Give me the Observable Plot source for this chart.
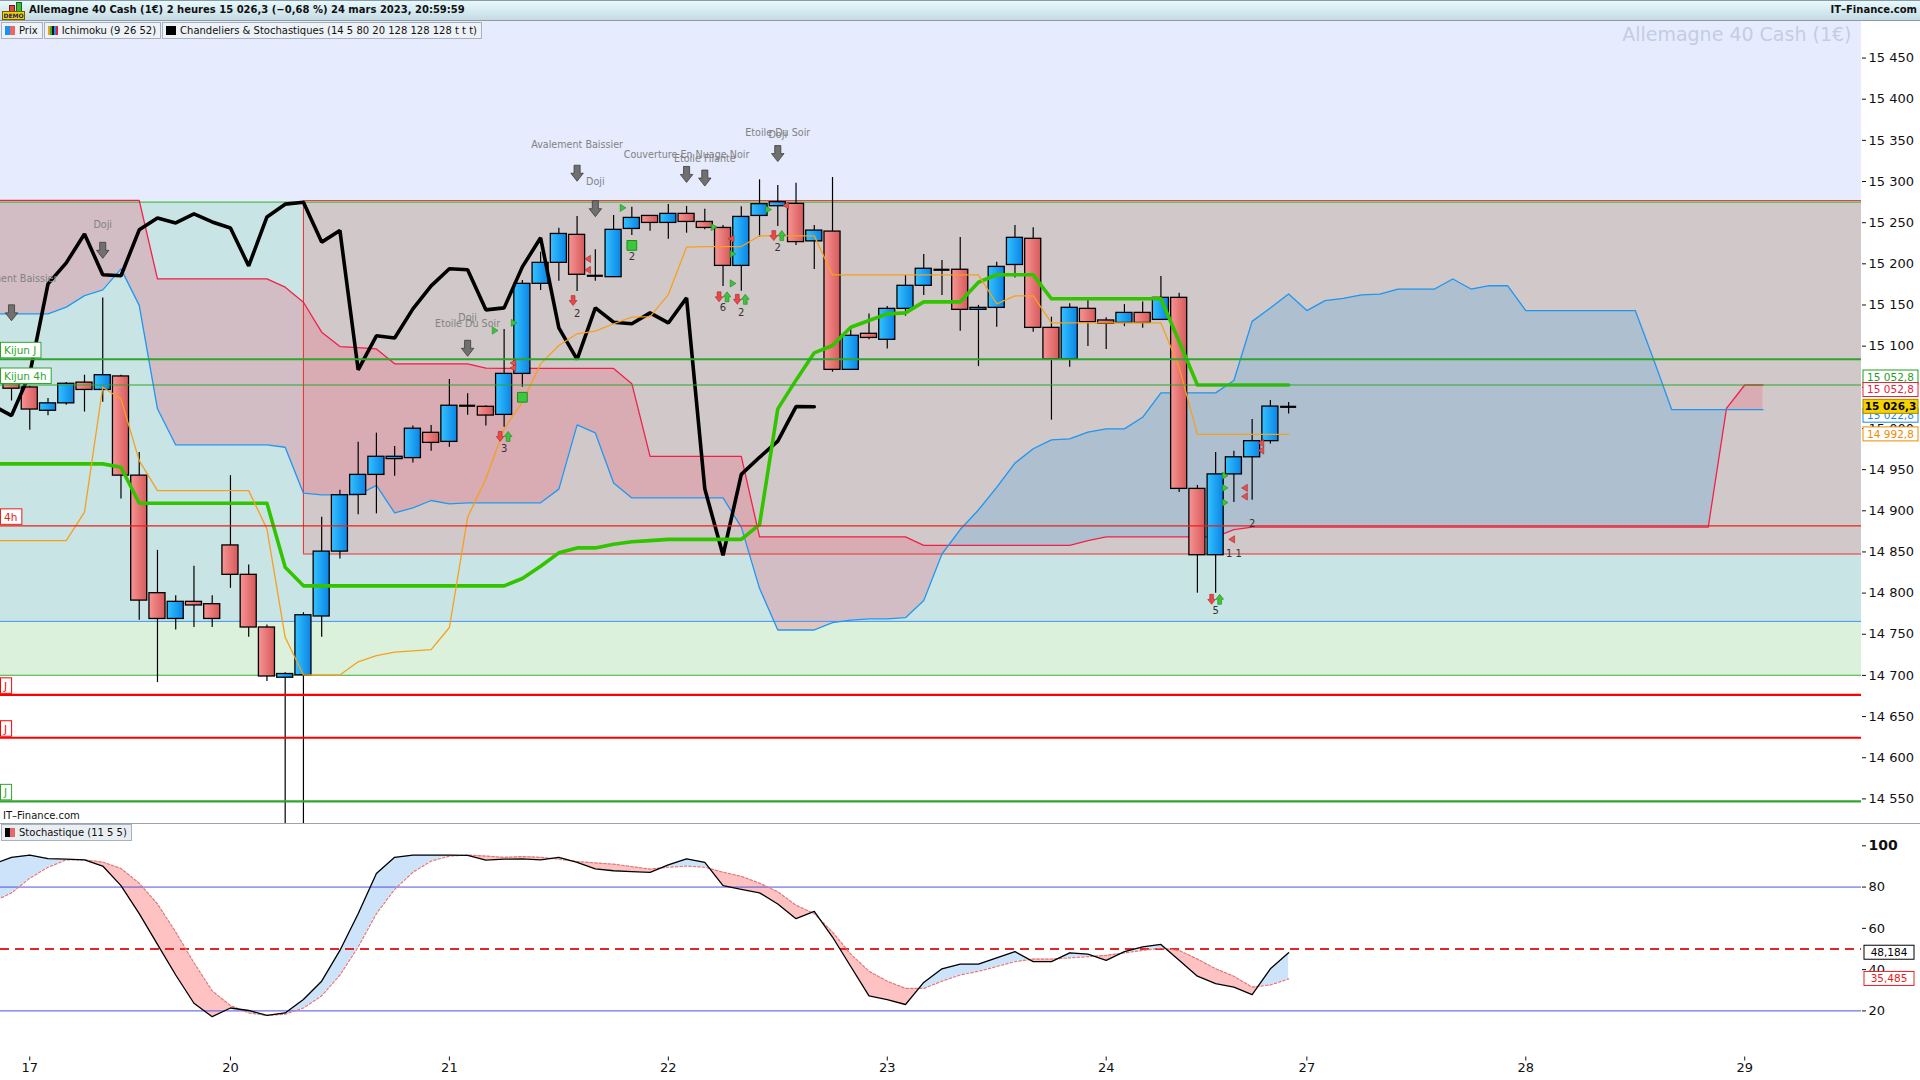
<!DOCTYPE html>
<html lang="fr">
<head>
<meta charset="utf-8">
<title>Allemagne 40 Cash (1€) – 2 heures</title>
<script src="https://cdn.jsdelivr.net/npm/d3@7"></script>
<script src="https://cdn.jsdelivr.net/npm/@observablehq/plot@0.6"></script>
<style>
html,body{margin:0;padding:0;background:#fff;}
#root{position:relative;width:1920px;height:1080px;overflow:hidden;font-family:"DejaVu Sans",sans-serif;color:#111;}
#titlebar{position:absolute;left:0;top:0;width:1920px;height:21px;box-sizing:border-box;border-top:1px solid #8d9aa4;border-bottom:1px solid #8d9aa4;background:linear-gradient(#e6fafd,#c6dae3);z-index:6;}
#title{position:absolute;left:29px;top:3px;font-weight:bold;font-size:10px;white-space:nowrap;}
#brand{position:absolute;right:3px;top:3px;font-weight:bold;font-size:10px;white-space:nowrap;}
#legend{position:absolute;left:1px;top:22px;height:17px;z-index:6;display:flex;}
.lg{height:17px;box-sizing:border-box;border:1px solid #a9b2ba;background:#edf2f7;font-size:10px;display:flex;align-items:center;padding:0 4px 0 3px;margin-right:1px;white-space:nowrap;}
.ic{display:inline-block;height:9px;margin-right:4px;}
#main{position:absolute;left:0;top:21px;z-index:1;}
#stoch{position:absolute;left:0;top:823px;z-index:1;border-top:1px solid #9aa4ae;}
#itf{position:absolute;left:3px;top:810px;font-size:10px;z-index:4;}
#stlg{position:absolute;left:1px;top:824px;height:17px;box-sizing:border-box;border:1px solid #a9b2ba;background:#e9eef3;font-size:10px;display:flex;align-items:center;padding:0 4px 0 3px;z-index:4;}
</style>
</head>
<body>
<div id="root">
  <div id="titlebar">
    <div style="position:absolute;left:2px;top:1px;width:23px;height:18px;">
      <div style="position:absolute;left:7px;top:3px;width:4px;height:5px;background:#e04848;border:1px solid #6a2020"></div>
      <div style="position:absolute;left:14px;top:0px;width:4px;height:8px;background:#34c034;border:1px solid #1e601e"></div>
      <div style="position:absolute;left:0;top:9px;width:21px;height:7px;background:#f2d200;border:1px solid #6e6000;font:bold 6px 'DejaVu Sans';line-height:7px;text-align:center;color:#1a1a6a">DEMO</div>
    </div>
    <div id="title">Allemagne 40 Cash (1€) 2 heures 15 026,3 (−0,68 %) 24 mars 2023, 20:59:59</div>
    <div id="brand">IT–Finance.com</div>
  </div>
  <div id="legend">
    <div class="lg"><span class="ic" style="width:10px;background:linear-gradient(90deg,#1e90f0 50%,#e86868 50%)"></span>Prix</div>
    <div class="lg"><span class="ic" style="width:10px;background:linear-gradient(90deg,#f0a020 20%,#30b030 20%,#30b030 40%,#111 40%,#111 60%,#2090f0 60%,#2090f0 80%,#e82040 80%)"></span>Ichimoku (9 26 52)</div>
    <div class="lg"><span class="ic" style="width:10px;background:#000"></span>Chandeliers &amp; Stochastiques (14 5 80 20 128 128 128 t t t)</div>
  </div>
  <div id="main"></div>
  <div id="itf">IT–Finance.com</div>
  <div id="stoch"></div>
  <div id="stlg"><span class="ic" style="width:10px;background:linear-gradient(90deg,#000 50%,#e86868 50%)"></span>Stochastique (11 5 5)</div>
  <svg width="0" height="0" style="position:absolute">
    <defs>
      <linearGradient id="gBlue" x1="0" x2="1" y1="0" y2="0"><stop offset="0" stop-color="#34c2ff"/><stop offset="1" stop-color="#0a84e6"/></linearGradient>
      <linearGradient id="gRed" x1="0" x2="1" y1="0" y2="0"><stop offset="0" stop-color="#f89494"/><stop offset="1" stop-color="#d65a5a"/></linearGradient>
    </defs>
  </svg>
</div>
<script>
// ---------------- DATA ----------------
// candle index 0..70 (2h candles), prices
const openP = [15054.3,15049.8,15021.5,15030.5,15055.7,15046.8,15063.2,14942.7,14799.9,14768.6,
  14789.4,14786.5,14857.9,14822.2,14758.2,14697.2,14700.2,14771.6,14850.4,14919.3,
  14943.6,14962.8,14964.0,14994.7,14983.7,15027.6,15026.3,15016.5,15066.3,15175.7,
  15201.2,15235.2,15185.5,15183.8,15242.4,15258.2,15249.7,15260.7,15250.9,15243.6,
  15197.5,15258.2,15270.0,15272.9,15227.3,15239.2,15071.2,15115.0,15107.7,15145.3,
  15173.3,15192.8,15192.8,15144.1,15146.5,15198.6,15230.4,15122.2,15084.1,15145.3,
  15131.2,15128.2,15140.4,15131.9,15158.7,14926.6,14846.0,14944.2,14965.0,14984.6,
  15026.3];
const highP = [15058.7,15051.3,15036.4,15055.7,15064.7,15158.4,15064.7,14970.9,14851.9,14796.9,
  14832.6,14796.9,14942.7,14834.1,14761.2,14703.1,14776.1,14892.1,14924.8,14983.3,
  14994.3,14978.1,15002.9,15003.7,15059.5,15042.1,15027.5,15120.2,15179.7,15214.2,
  15243.2,15257.5,15217.0,15258.7,15268.8,15258.2,15272.1,15269.7,15266.4,15246.5,
  15269.2,15302.0,15295.1,15297.9,15246.6,15304.9,15119.9,15139.2,15148.1,15185.8,
  15211.4,15204.1,15232.0,15149.5,15202.0,15246.6,15243.8,15135.2,15151.4,15155.4,
  15134.4,15150.5,15153.5,15184.6,15164.3,14930.8,14970.9,14972.4,15010.8,15034.0,
  15031.5];
const lowP = [15033.4,14997.7,15015.6,15028.2,15020.0,15031.9,14914.4,14767.1,14691.3,14755.2,
  14758.2,14758.2,14805.8,14746.3,14692.7,14470.0,14460.0,14746.3,14841.5,14895.1,
  14896.3,14942.1,14957.9,14972.4,14977.2,15016.2,15003.1,15001.6,15050.1,15167.6,
  15178.9,15166.4,15178.9,15183.8,15234.4,15239.6,15230.0,15237.2,15241.3,15172.4,
  15166.7,15232.3,15245.3,15222.4,15193.0,15068.4,15071.2,15107.7,15096.4,15136.4,
  15161.5,15161.5,15118.2,15075.2,15123.0,15182.8,15117.0,15010.1,15074.5,15099.5,
  15095.9,15123.7,15121.8,15131.9,14922.1,14799.9,14799.9,14910.0,14912.9,14981.2,
  15017.7];
const closeP = [15048.3,15023.0,15030.5,15054.3,15046.8,15064.7,14942.7,14790.9,14768.6,14789.4,
  14785.0,14768.6,14822.2,14758.2,14698.7,14701.7,14773.1,14850.4,14918.9,14943.6,
  14965.6,14965.6,14999.7,14982.5,15027.6,15027.6,15015.7,15066.3,15175.7,15201.2,
  15236.3,15186.7,15185.5,15241.3,15255.8,15249.7,15260.7,15250.9,15243.6,15197.5,
  15257.0,15272.5,15274.9,15226.4,15240.4,15071.2,15112.6,15110.0,15145.3,15173.3,
  15194.0,15192.8,15144.1,15146.5,15196.3,15231.6,15122.2,15084.0,15146.6,15129.1,
  15127.2,15140.4,15128.2,15158.7,14926.6,14846.0,14944.2,14965.0,14984.6,15026.6,
  15026.3];

// Ichimoku lines, index starts at -1
const lineStart = -1;
const tenkan = [14863.8,14863.8,14863.8,14863.8,14863.8,14898.3,15050.1,15036.0,14961.0,
  14924.5,14924.5,14924.5,14924.5,14924.5,14924.5,14878.0,14746.3,14700.6,14700.6,14700.6,
  14716.5,14724.0,14728.4,14729.9,14731.4,14758.2,14892.1,14938.8,14999.5,15031.9,
  15078.5,15100.7,15115.0,15118.2,15127.2,15135.2,15135.9,15162.7,15220.3,15221.0,
  15221.0,15221.0,15234.0,15234.0,15234.0,15234.0,15186.7,15186.7,15186.7,15186.7,
  15186.7,15186.7,15186.7,15186.7,15186.7,15151.4,15161.1,15161.1,15128.2,15128.2,
  15128.2,15128.2,15128.2,15128.2,15128.2,15074.3,14992.8,14992.8,14992.8,14992.8,
  14992.8,14992.8];
const kijun = [14957.0,14957.0,14957.0,14957.0,14957.0,14957.0,14957.0,14952.9,
  14909.2,14909.2,14909.2,14909.2,14909.2,14909.2,14909.2,14909.2,14831.5,
  14808.8,14808.8,14808.8,14808.8,14808.8,14808.8,14808.8,14808.8,14808.8,14808.8,14808.8,14808.8,
  14817.7,14832.6,14848.9,14854.9,14854.9,14859.4,14862.3,14863.8,
  14865.3,14865.3,14865.3,14865.3,14865.3,14883.2,15023.8,15058.7,15091.9,15100.8,
  15123.0,15131.2,15139.2,15140.4,15153.8,15153.8,15153.8,15177.6,15186.7,15186.7,15186.7,
  15157.5,15157.5,15157.5,15157.5,15157.5,15157.5,15157.5,15105.6,
  15052.8,15052.8,15052.8,15052.8,15052.8,15052.8];
const chikou = [15027.6,15015.7,15066.3,15175.7,15201.2,15236.3,15186.7,15185.5,15241.3,15255.8,
  15249.7,15260.7,15250.9,15243.6,15197.5,15257.0,15272.5,15274.9,15226.4,15240.4,
  15071.2,15112.6,15110.0,15145.3,15173.3,15194.0,15192.8,15144.1,15146.5,15196.3,
  15231.6,15122.2,15084.0,15146.6,15129.1,15127.2,15140.4,15128.2,15158.7,14926.6,
  14846.0,14944.2,14965.0,14984.6,15026.6,15026.3];
const senkouA = [15139.2,
  15139.2,15139.2,15139.2,15147.4,15161.4,15168.4,15193.9,15149.5,15023.9,14980.0,
  14980.0,14980.0,14980.0,14980.0,14980.0,14977.2,14921.4,14919.3,14919.3,14919.3,
  14930.8,14897.5,14903.6,14912.5,14908.5,14909.7,14909.7,14909.7,14909.7,14909.7,
  14926.3,15004.4,14994.6,14933.9,14915.6,14915.6,14915.6,14915.6,14915.6,14915.6,
  14880.2,14805.8,14755.2,14755.2,14755.2,14764.2,14767.1,14768.6,14768.6,14770.1,
  14790.9,14847.5,14877.2,14901.0,14928.5,14957.9,14975.4,14986.1,14987.3,14995.5,
  14999.5,14999.5,15013.6,15043.2,15043.2,15043.2,15043.2,15058.3,15130.1,15146.3,
  15163.3,15143.2,15155.3,15158.1,15162.3,15163.3,15169.4,15169.4,15169.4,15181.6,
  15169.4,15173.4,15173.4,15143.2,15143.2,15143.2,15143.2,15143.2,15143.2,15143.2,
  15084.0,15022.8,15022.8,15022.8,15022.8,15022.8,15022.8];
const senkouB = [15277.0,15277.0,15277.0,15277.0,15277.0,15277.0,15277.0,15277.0,15277.0,
  15181.7,15181.7,15181.7,15181.7,15181.7,15181.7,15181.7,
  15171.6,15153.3,15117.0,15099.5,15098.1,15096.6,
  15078.5,15078.5,15078.5,15078.5,15078.5,15073.2,
  15072.9,15072.9,15072.9,15072.9,15072.9,15072.9,15072.9,15054.4,
  14966.0,14966.0,14966.0,14966.0,14966.0,14966.0,
  14868.3,14868.3,14868.3,14868.3,14868.3,14868.3,14868.3,14868.3,14868.3,
  14857.9,14857.9,14857.9,14857.9,14857.9,14857.9,14857.9,14857.9,14857.9,
  14863.8,14868.3,14868.3,14868.3,14868.3,14868.3,14868.3,14868.3,14877.2,
  14880.2,14880.2,14880.2,14880.2,14880.2,14880.2,14880.2,14880.2,14880.2,14880.2,
  14880.2,14880.2,14880.2,14880.2,14880.2,14880.2,14880.2,14880.2,14880.2,14880.2,
  14880.2,14880.2,14880.2,14880.2,14880.2,14880.2,
  15024.5,15052.8,15052.8];

// Stochastic (11 5 5), index starts at -1
const stochK = [91.1,94.4,95.5,93.8,93.5,93.2,90.2,80.7,67.1,52.2,37.4,23.7,17.2,21.4,20.2,17.8,19.0,25.5,34.4,49.3,
  67.1,86.6,94.4,95.5,95.5,95.5,95.4,93.1,93.5,93.7,93.2,94.4,92.0,88.8,87.9,87.5,87.1,90.8,93.7,92.0,
  80.7,78.9,77.2,71.8,64.7,68.2,55.8,41.5,27.3,25.5,23.1,33.8,40.4,42.7,42.7,45.7,48.7,43.9,43.9,48.1,
  47.5,44.5,48.7,51.0,52.2,44.5,36.8,33.2,31.5,27.9,40.4,48.184];
const stochD = [73.0,77.2,84.3,89.6,93.2,93.2,92.1,89.0,81.9,71.8,58.2,43.3,29.7,22.6,19.0,17.8,18.4,21.4,27.3,37.4,
  51.0,67.1,78.9,87.2,92.6,95.0,95.5,95.0,94.4,94.8,94.4,93.5,92.4,91.7,91.1,89.9,88.7,89.6,90.2,89.6,
  87.2,85.2,81.9,77.7,71.2,67.1,58.2,47.5,39.2,34.4,30.9,30.9,34.4,37.4,39.2,41.5,43.9,45.1,45.1,45.7,
  46.3,46.9,48.1,49.3,50.4,49.3,45.1,40.4,36.8,31.5,32.6,35.485];
const stochLevels = [80, 20];
const stochMid = [50];
const stochTicks = [20, 40, 60, 80, 100];

// Horizontal levels (left labels)
const levelNames = ["Kijun J", "Kijun 4h", "4h", "J", "J", "J"];
const levelPrices = [15084.0, 15052.8, 14881.7, 14676.4, 14624.3, 14547.0];

// Zones (price bands); zoneStart = candle index where the zone begins
const zoneTop = [15275.0, 15275.0, 14765.7];
const zoneBottom = [14765.7, 14847.5, 14700.2];
const zoneStart = [-1, 16, -1];

// Price axis ticks and day ticks
const priceTicks = [14550,14600,14650,14700,14750,14800,14850,14900,14950,15000,15050,15100,15150,15200,15250,15300,15350,15400,15450];
const dayTickIdx = [1, 12, 24, 36, 48, 60, 71, 83, 95];
const dayLabels = ["17", "20", "21", "22", "23", "24", "27", "28", "29"];

// Candlestick pattern annotations
const patternIdx = [0, 5, 25, 25, 31, 32, 37, 38, 42, 42];
const patternText = ["Avalement Baissier", "Doji", "Doji", "Etoile Du Soir", "Avalement Baissier", "Doji", "Couverture En Nuage Noir", "Etoile Filante", "Etoile Du Soir", "Doji"];
const patternPrice = [15182.2, 15247.7, 15134.6, 15127.2, 15344.3, 15299.7, 15332.5, 15328.0, 15359.2, 15356.2];
const arrowIdx = [0, 5, 25, 31, 32, 37, 38, 42];
const arrowPrice = [15140.5, 15216.4, 15097.4, 15310.1, 15267.0, 15308.6, 15304.2, 15333.9];
// signal arrows (red down / green up) and counts
const signalIdx = [27, 31, 39, 40, 42, 66];
const signalPrice = [14990.3, 15155.4, 15159.9, 15156.9, 15234.3, 14792.4];
const signalUp = [true, false, true, true, true, true];
const countIdx = [27, 31, 39, 40, 42, 66, 34, 68, 67];
const countText = ["3", "2", "6", "2", "2", "5", "2", "2", "1 1"];
const countPrice = [14975.4, 15139.1, 15146.5, 15140.5, 15219.4, 14779.0, 15209.0, 14884.7, 14847.5];
const squareIdx = [28, 34];
const squarePrice = [15037.9, 15222.4];
// small signal triangles (green pointing right, red pointing left)
const greenTriIdx = [33.5, 27.53, 26.49, 38.49, 39.53, 39.53, 41.48, 66.5, 66.5, 66.5];
const greenTriPrice = [15268.0, 15128.3, 15119.0, 15244.7, 15212.0, 15176.2, 15266.0, 14942.7, 14927.8, 14910.0];
const redTriIdx = [31.6, 31.6, 27.5, 27.5, 39.46, 42.46, 67.6, 67.6, 68.5, 68.5, 66.9];
const redTriPrice = [15206.0, 15192.6, 15079.5, 15073.6, 15230.4, 15270.9, 14927.8, 14917.4, 14982.2, 14973.2, 14865.3];

// ---------------- LAYOUT ----------------
const W = 1920, AXIS_W = 59, MAIN_H = 802, STOCH_H = 257;
const xDomain = [-0.604, 101.4];
const priceDomain = [14520.1, 15494.4];
const stochDomain = [-2.34, 110.32];
const HALF = 0.44;

const fmtTick = v => String(v).replace(/\B(?=(\d{3})+(?!\d))/g, " ");
const fmtPrice = v => { const [a, b] = v.toFixed(1).split("."); return a.replace(/\B(?=(\d{3})+(?!\d))/g, " ") + "," + b; };
const fmtStoch = v => v.toFixed(3).replace(".", ",");

const candles = openP.map((o, i) => ({i, o, h: highP[i], l: lowP[i], c: closeP[i]}));
const ups = candles.filter(d => d.c > d.o);
const downs = candles.filter(d => d.c < d.o);
const crosses = candles.filter(d => d.c === d.o);
const series = arr => arr.map((v, k) => ({i: k + lineStart, v}));

// fill between two series, with crossing points inserted
function band(a, b) {
  const pts = [];
  for (let k = 0; k < a.length; k++) {
    const i = k + lineStart;
    pts.push({x: i, a: a[k], b: b[k]});
    if (k < a.length - 1) {
      const d0 = a[k] - b[k], d1 = a[k + 1] - b[k + 1];
      if (d0 * d1 < 0) {
        const t = d0 / (d0 - d1);
        const v = a[k] + t * (a[k + 1] - a[k]);
        pts.push({x: i + t, a: v, b: v});
      }
    }
  }
  return pts.map(p => ({...p, m: Math.max(p.a, p.b)}));
}
const cloud = band(senkouA, senkouB);
const stochBand = band(stochK, stochD);

const zones = zoneTop.map((t, k) => ({top: t, bottom: zoneBottom[k], start: zoneStart[k] < 0 ? xDomain[0] : zoneStart[k]}));
const patterns = patternIdx.map((i, k) => ({i, text: patternText[k], price: patternPrice[k]}));
const arrows = arrowIdx.map((i, k) => ({i, price: arrowPrice[k]}));
const signals = signalIdx.map((i, k) => ({i, price: signalPrice[k], up: signalUp[k]}));
const counts = countIdx.map((i, k) => ({i, text: countText[k], price: countPrice[k]}));
const squares = squareIdx.map((i, k) => ({i, price: squarePrice[k]}));
const levels = levelNames.map((n, k) => ({name: n, price: levelPrices[k]}));
const greenTris = greenTriIdx.map((i, k) => ({i, price: greenTriPrice[k]}));
const redTris = redTriIdx.map((i, k) => ({i, price: redTriPrice[k]}));

// custom symbols
const downArrow = {draw(ctx, size) { const r = Math.sqrt(size / Math.PI), w = r * 0.38, hw = r * 0.78;
  ctx.moveTo(-w, -r); ctx.lineTo(w, -r); ctx.lineTo(w, 0); ctx.lineTo(hw, 0); ctx.lineTo(0, r); ctx.lineTo(-hw, 0); ctx.lineTo(-w, 0); ctx.closePath(); }};
const upArrow = {draw(ctx, size) { const r = Math.sqrt(size / Math.PI), w = r * 0.38, hw = r * 0.78;
  ctx.moveTo(-w, r); ctx.lineTo(w, r); ctx.lineTo(w, 0); ctx.lineTo(hw, 0); ctx.lineTo(0, -r); ctx.lineTo(-hw, 0); ctx.lineTo(-w, 0); ctx.closePath(); }};
const triRight = {draw(ctx, size) { const r = Math.sqrt(size / Math.PI);
  ctx.moveTo(-r * 0.7, -r); ctx.lineTo(r * 0.9, 0); ctx.lineTo(-r * 0.7, r); ctx.closePath(); }};
const triLeft = {draw(ctx, size) { const r = Math.sqrt(size / Math.PI);
  ctx.moveTo(r * 0.7, -r); ctx.lineTo(-r * 0.9, 0); ctx.lineTo(r * 0.7, r); ctx.closePath(); }};

const measure = (() => { const c = document.createElement("canvas").getContext("2d"); return (t, f) => { c.font = f; return c.measureText(t).width; }; })();

const levelColor = ["#2ea62e", "#2ea62e", "#e8201a", "#ff0000", "#ff0000", "#2ea62e"];
const levelWidth = [2, 1.1, 1.1, 2.2, 2.2, 2.2];

function leftLabels(index, scales) {
  const y = scales && scales.y ? scales.y : d3.scaleLinear(priceDomain, [MAIN_H, 0]);
  const g = d3.create("svg:g").attr("text-anchor", "start");
  levels.forEach((d, k) => {
    const py = y(d.price);
    const font = "10.5px 'DejaVu Sans'";
    const w = measure(d.name, font) + 8;
    g.append("rect").attr("x", 0.5).attr("y", py - 16.5).attr("width", w).attr("height", 15.5)
      .attr("fill", "#fff").attr("stroke", levelColor[k]).attr("stroke-width", 1);
    g.append("text").attr("x", 4).attr("y", py - 4.5).attr("text-anchor", "start").attr("fill", levelColor[k])
      .attr("font-family", "DejaVu Sans").attr("font-size", 10.5).text(d.name);
  });
  return g.node();
}

function priceFlags(index, scales) {
  const y = scales && scales.y ? scales.y : d3.scaleLinear(priceDomain, [MAIN_H, 0]);
  const g = d3.create("svg:g");
  const flags = [
    {v: senkouA[senkouA.length - 1], fg: "#1e88e8", bg: "#fff", bd: "#1e88e8", shift: 6, bold: false},
    {v: closeP[closeP.length - 1], fg: "#000", bg: "#f6d200", bd: "#a08800", shift: 0, bold: true},
    {v: kijun[kijun.length - 1], fg: "#1f9e1f", bg: "#fff", bd: "#1f9e1f", shift: -7.5, bold: false},
    {v: senkouB[senkouB.length - 1], fg: "#e8203e", bg: "#fff", bd: "#e8203e", shift: 5, bold: false},
    {v: tenkan[tenkan.length - 1], fg: "#f08a00", bg: "#fff", bd: "#f08a00", shift: 0, bold: false}
  ];
  const x0 = W - AXIS_W + 2;
  for (const f of flags) {
    const py = y(f.v) + f.shift;
    g.append("rect").attr("x", x0).attr("y", py - 7).attr("width", 55).attr("height", 14)
      .attr("fill", f.bg).attr("stroke", f.bd).attr("stroke-width", 1);
    g.append("text").attr("x", x0 + 27.5).attr("y", py + 3.8).attr("text-anchor", "middle")
      .attr("fill", f.fg).attr("font-family", "DejaVu Sans").attr("font-size", 10.5)
      .attr("font-weight", f.bold ? "bold" : "normal").text(fmtPrice(f.v));
  }
  return g.node();
}

function stochFlags(index, scales) {
  const y = scales && scales.y ? scales.y : d3.scaleLinear(stochDomain, [STOCH_H - 24.5, 0]);
  const g = d3.create("svg:g");
  const flags = [
    {v: stochK[stochK.length - 1], fg: "#000", bd: "#000"},
    {v: stochD[stochD.length - 1], fg: "#e82020", bd: "#e82020"}
  ];
  const x0 = W - AXIS_W + 3;
  for (const f of flags) {
    const py = y(f.v);
    g.append("rect").attr("x", x0).attr("y", py - 7).attr("width", 50).attr("height", 14)
      .attr("fill", "#fff").attr("stroke", f.bd).attr("stroke-width", 1);
    g.append("text").attr("x", x0 + 25).attr("y", py + 3.8).attr("text-anchor", "middle")
      .attr("fill", f.fg).attr("font-family", "DejaVu Sans").attr("font-size", 10.5).text(fmtStoch(f.v));
  }
  return g.node();
}

// ---------------- MAIN PRICE PANEL ----------------
const main = Plot.plot({
  width: W, height: MAIN_H,
  marginLeft: 0, marginRight: AXIS_W, marginTop: 0, marginBottom: 0,
  style: {background: "transparent", fontFamily: "DejaVu Sans", fontSize: "13px", color: "#111", overflow: "visible"},
  x: {domain: xDomain, axis: null},
  y: {domain: priceDomain, axis: "right", ticks: priceTicks, tickFormat: fmtTick, tickSize: 4, tickPadding: 3, label: null},
  marks: [
    // sky above the resistance zone
    Plot.rect([zones[0]], {x1: xDomain[0], x2: xDomain[1], y1: d => d.top, y2: priceDomain[1], fill: "#e6ecfe"}),
    // zones
    Plot.rect([zones[0]], {x1: "start", x2: xDomain[1], y1: "bottom", y2: "top", fill: "#c9e4e4"}),
    Plot.rect([zones[1]], {x1: "start", x2: xDomain[1], y1: "bottom", y2: "top", fill: "#d1c9c9"}),
    Plot.rect([zones[2]], {x1: "start", x2: xDomain[1], y1: "bottom", y2: "top", fill: "#dcf1dc"}),
    // ichimoku cloud
    Plot.areaY(cloud, {x: "x", y1: "a", y2: "m", fill: "#e86e84", fillOpacity: 0.32, clip: true}),
    Plot.areaY(cloud, {x: "x", y1: "b", y2: "m", fill: "#64aae1", fillOpacity: 0.32, clip: true}),
    // zone borders
    Plot.ruleY([zones[0]], {y: "top", x1: xDomain[0], x2: xDomain[1], stroke: "#30b030", strokeWidth: 1}),
    Plot.ruleY([zones[1]], {y: "top", x1: "start", x2: xDomain[1], stroke: "#e83030", strokeWidth: 1, dy: -1.5}),
    Plot.ruleY([zones[1]], {y: "bottom", x1: "start", x2: xDomain[1], stroke: "#e83030", strokeWidth: 1}),
    Plot.ruleX([zones[1]], {x: "start", y1: "bottom", y2: "top", stroke: "#e83030", strokeWidth: 1}),
    Plot.ruleY([zones[0]], {y: "bottom", x1: xDomain[0], x2: xDomain[1], stroke: "#3a8ef0", strokeWidth: 1}),
    Plot.ruleY([zones[2]], {y: "bottom", x1: xDomain[0], x2: xDomain[1], stroke: "#30b030", strokeWidth: 1}),
    // cloud lines
    Plot.line(series(senkouB), {x: "i", y: "v", stroke: "#f0204a", strokeWidth: 1.3, clip: true}),
    Plot.line(series(senkouA), {x: "i", y: "v", stroke: "#2096f0", strokeWidth: 1.3, clip: true}),
    // candles
    Plot.ruleX(candles, {x: "i", y1: "l", y2: "h", stroke: "#000", strokeWidth: 1.2, clip: true}),
    Plot.rect(ups, {x1: d => d.i - HALF, x2: d => d.i + HALF, y1: "o", y2: "c", fill: "url(#gBlue)", stroke: "#000", strokeWidth: 1.3, clip: true}),
    Plot.rect(downs, {x1: d => d.i - HALF, x2: d => d.i + HALF, y1: "c", y2: "o", fill: "url(#gRed)", stroke: "#000", strokeWidth: 1.3, clip: true}),
    Plot.ruleY(crosses, {y: "c", x1: d => d.i - HALF, x2: d => d.i + HALF, stroke: "#000", strokeWidth: 2.2}),
    // ichimoku lines
    Plot.line(series(chikou), {x: "i", y: "v", stroke: "#000", strokeWidth: 3.6, strokeLinejoin: "miter", clip: true}),
    Plot.line(series(kijun), {x: "i", y: "v", stroke: "#33c400", strokeWidth: 3.6, clip: true}),
    Plot.line(series(tenkan), {x: "i", y: "v", stroke: "#f5a01e", strokeWidth: 1.3, clip: true}),
    // horizontal levels
    Plot.ruleY(levels, {y: "price", x1: xDomain[0], x2: xDomain[1], stroke: (d, k) => levelColor[k], strokeWidth: (d, k) => levelWidth[k]}),
    // annotations
    Plot.dot(arrows, {x: "i", y: "price", symbol: downArrow, r: 8, fill: "#707070", stroke: "#3c3c3c", strokeWidth: 0.8, clip: true}),
    Plot.text(patterns, {x: "i", y: "price", text: "text", fill: "#828282", fontSize: 9.6, clip: true}),
    Plot.dot(greenTris, {x: "i", y: "price", symbol: triRight, r: 3.6, fill: "#3cc43c", stroke: "#1e8a1e", strokeWidth: 0.6}),
    Plot.dot(redTris, {x: "i", y: "price", symbol: triLeft, r: 3.6, fill: "#e85050", stroke: "#a82828", strokeWidth: 0.6}),
    Plot.dot(signals, {x: "i", y: "price", symbol: downArrow, r: 5, fill: "#e84848", stroke: "#a82828", strokeWidth: 0.6, dx: -4}),
    Plot.dot(signals.filter(d => d.up), {x: "i", y: "price", symbol: upArrow, r: 5, fill: "#3cc43c", stroke: "#1e8a1e", strokeWidth: 0.6, dx: 4}),
    Plot.dot(squares, {x: "i", y: "price", symbol: "square", r: 5.5, fill: "#3cc83c", stroke: "#1e8e1e", strokeWidth: 1}),
    Plot.text(counts, {x: "i", y: "price", text: "text", fill: "#333", fontSize: 10}),
    // watermark
    Plot.text(["Allemagne 40 Cash (1€)"], {frameAnchor: "top-right", text: d => d, dx: -10, dy: 6, lineAnchor: "top", textAnchor: "end", fontSize: 19, fill: "#c3cde3"}),
    leftLabels,
    priceFlags
  ]
});
document.getElementById("main").appendChild(main);

// ---------------- STOCHASTIC PANEL ----------------
const stoch = Plot.plot({
  width: W, height: STOCH_H,
  marginLeft: 0, marginRight: AXIS_W, marginTop: 0, marginBottom: 24.5,
  style: {background: "transparent", fontFamily: "DejaVu Sans", fontSize: "13px", color: "#111", overflow: "visible"},
  x: {domain: xDomain, ticks: dayTickIdx, tickFormat: d => dayLabels[dayTickIdx.indexOf(d)], tickSize: 4, tickPadding: 2, label: null},
  y: {domain: stochDomain, axis: "right", ticks: stochTicks, tickSize: 4, tickPadding: 3, label: null},
  marks: [
    Plot.areaY(stochBand, {x: "x", y1: "b", y2: "m", fill: "#cce3fa", clip: true}),
    Plot.areaY(stochBand, {x: "x", y1: "a", y2: "m", fill: "#ffc2c2", clip: true}),
    Plot.ruleY(stochLevels, {x1: xDomain[0], x2: xDomain[1], stroke: "#4e4ee6", strokeWidth: 1}),
    Plot.ruleY(stochMid, {x1: xDomain[0], x2: xDomain[1], stroke: "#e02828", strokeWidth: 1.8, strokeDasharray: "9,6"}),
    Plot.line(series(stochD), {x: "i", y: "v", stroke: "#e07a7a", strokeWidth: 1.2, strokeDasharray: "2.5,2", clip: true}),
    Plot.line(series(stochK), {x: "i", y: "v", stroke: "#000", strokeWidth: 1.3, clip: true}),
    stochFlags
  ]
});
document.getElementById("stoch").appendChild(stoch);
d3.select(stoch).selectAll("text").filter(function () { return this.textContent === "100"; })
  .attr("font-weight", "bold").attr("font-size", "14px");
</script>
</body>
</html>
